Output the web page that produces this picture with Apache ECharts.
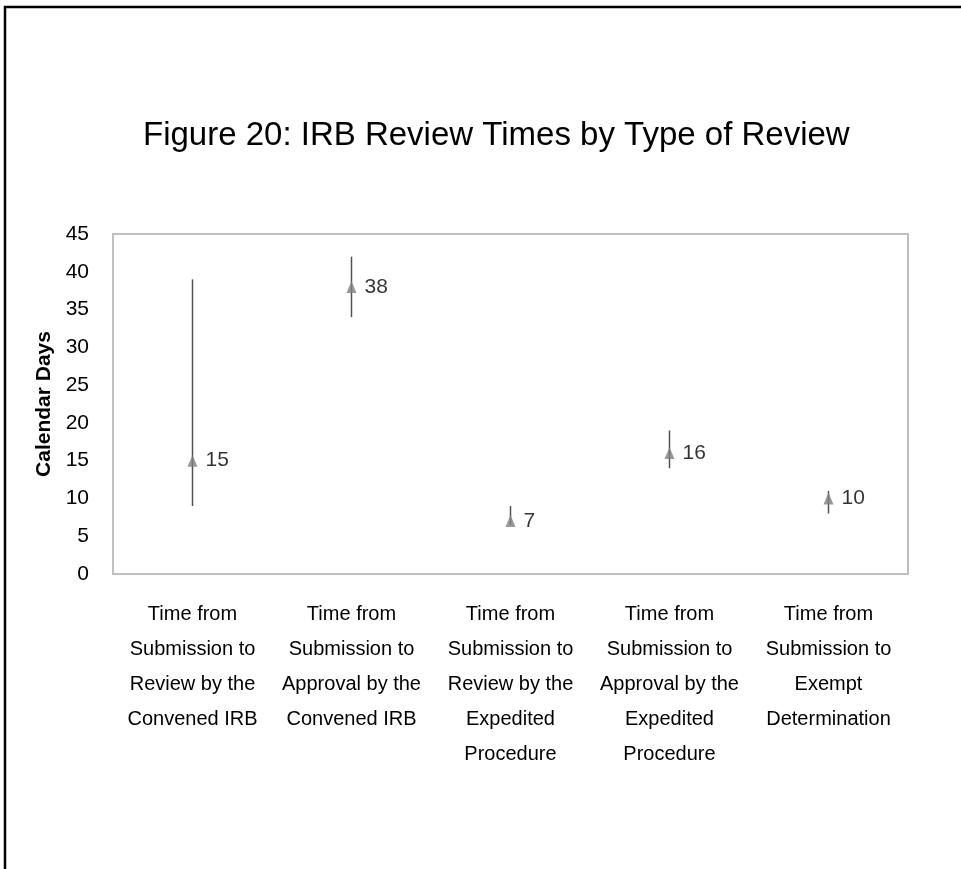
<!DOCTYPE html>
<html>
<head>
<meta charset="utf-8">
<title>IRB Review Times</title>
<script src="https://cdn.jsdelivr.net/npm/echarts@6/dist/echarts.min.js"></script>
<style>
  html, body { margin: 0; padding: 0; background: #fff; }
  #chart { width: 961px; height: 869px; }
</style>
</head>
<body>
<div id="chart"></div>
<script>
const categories = [
  'Time from\nSubmission to\nReview by the\nConvened IRB',
  'Time from\nSubmission to\nApproval by the\nConvened IRB',
  'Time from\nSubmission to\nReview by the\nExpedited\nProcedure',
  'Time from\nSubmission to\nApproval by the\nExpedited\nProcedure',
  'Time from\nSubmission to\nExempt\nDetermination'
]
const medianDays = [15, 38, 7, 16, 10]
const lowDays = [9, 34, 6.5, 14, 8]
const highDays = [39, 42, 9, 19, 11]
const yTicks = [0, 5, 10, 15, 20, 25, 30, 35, 40, 45]

const font = '"Liberation Sans", Arial, sans-serif'
const chart = echarts.init(document.getElementById('chart'))

// one [index, low, high] entry per category for the range lines
const rangeData = categories.map((c, i) => [i, lowDays[i], highDays[i]])

const option = {
  animation: false,
  backgroundColor: '#fff',
  title: {
    text: 'Figure 20: IRB Review Times by Type of Review',
    left: 138,
    top: 114,
    textStyle: {
      fontFamily: font,
      fontSize: 33,
      fontWeight: 'normal',
      color: '#000'
    }
  },
  graphic: [
    {
      type: 'rect',
      shape: { x: 5, y: 7, width: 1200, height: 1200 },
      style: { fill: 'none', stroke: '#000', lineWidth: 2.5 },
      silent: true
    }
  ],
  grid: {
    left: 113,
    right: 53,
    top: 234,
    bottom: 295,
    show: true,
    borderColor: '#bfbfbf',
    borderWidth: 2
  },
  xAxis: {
    type: 'category',
    data: categories,
    boundaryGap: true,
    axisLine: { lineStyle: { color: '#bfbfbf', width: 2 } },
    axisTick: { show: false },
    axisLabel: {
      interval: 0,
      margin: 23,
      fontFamily: font,
      fontSize: 20,
      lineHeight: 35,
      color: '#000'
    }
  },
  yAxis: {
    type: 'value',
    min: yTicks[0],
    max: yTicks[yTicks.length - 1],
    interval: 5,
    name: 'Calendar Days',
    nameLocation: 'middle',
    nameGap: 55,
    nameTextStyle: {
      fontFamily: font,
      fontSize: 21,
      fontWeight: 'bold',
      color: '#000'
    },
    axisLine: { show: true, lineStyle: { color: '#bfbfbf', width: 2 } },
    axisTick: { show: false },
    splitLine: { show: false },
    axisLabel: {
      margin: 24,
      fontFamily: font,
      fontSize: 21,
      color: '#000'
    }
  },
  series: [
    {
      name: 'range',
      type: 'custom',
      z: 1,
      data: rangeData,
      renderItem: function (params, api) {
        const lo = api.coord([api.value(0), api.value(1)])
        const hi = api.coord([api.value(0), api.value(2)])
        return {
          type: 'line',
          shape: { x1: lo[0], y1: lo[1], x2: hi[0], y2: hi[1] },
          style: { stroke: '#505050', lineWidth: 1.5 }
        }
      }
    },
    {
      name: 'median',
      type: 'scatter',
      z: 2,
      symbol: 'triangle',
      symbolSize: [10, 12],
      itemStyle: { color: '#7f7f7f' },
      data: medianDays,
      label: {
        show: true,
        position: 'right',
        distance: 8,
        fontFamily: font,
        fontSize: 21,
        color: '#000'
      }
    }
  ]
}

chart.setOption(option)
window.addEventListener('resize', function () {
  chart.resize()
})
</script>
</body>
</html>
